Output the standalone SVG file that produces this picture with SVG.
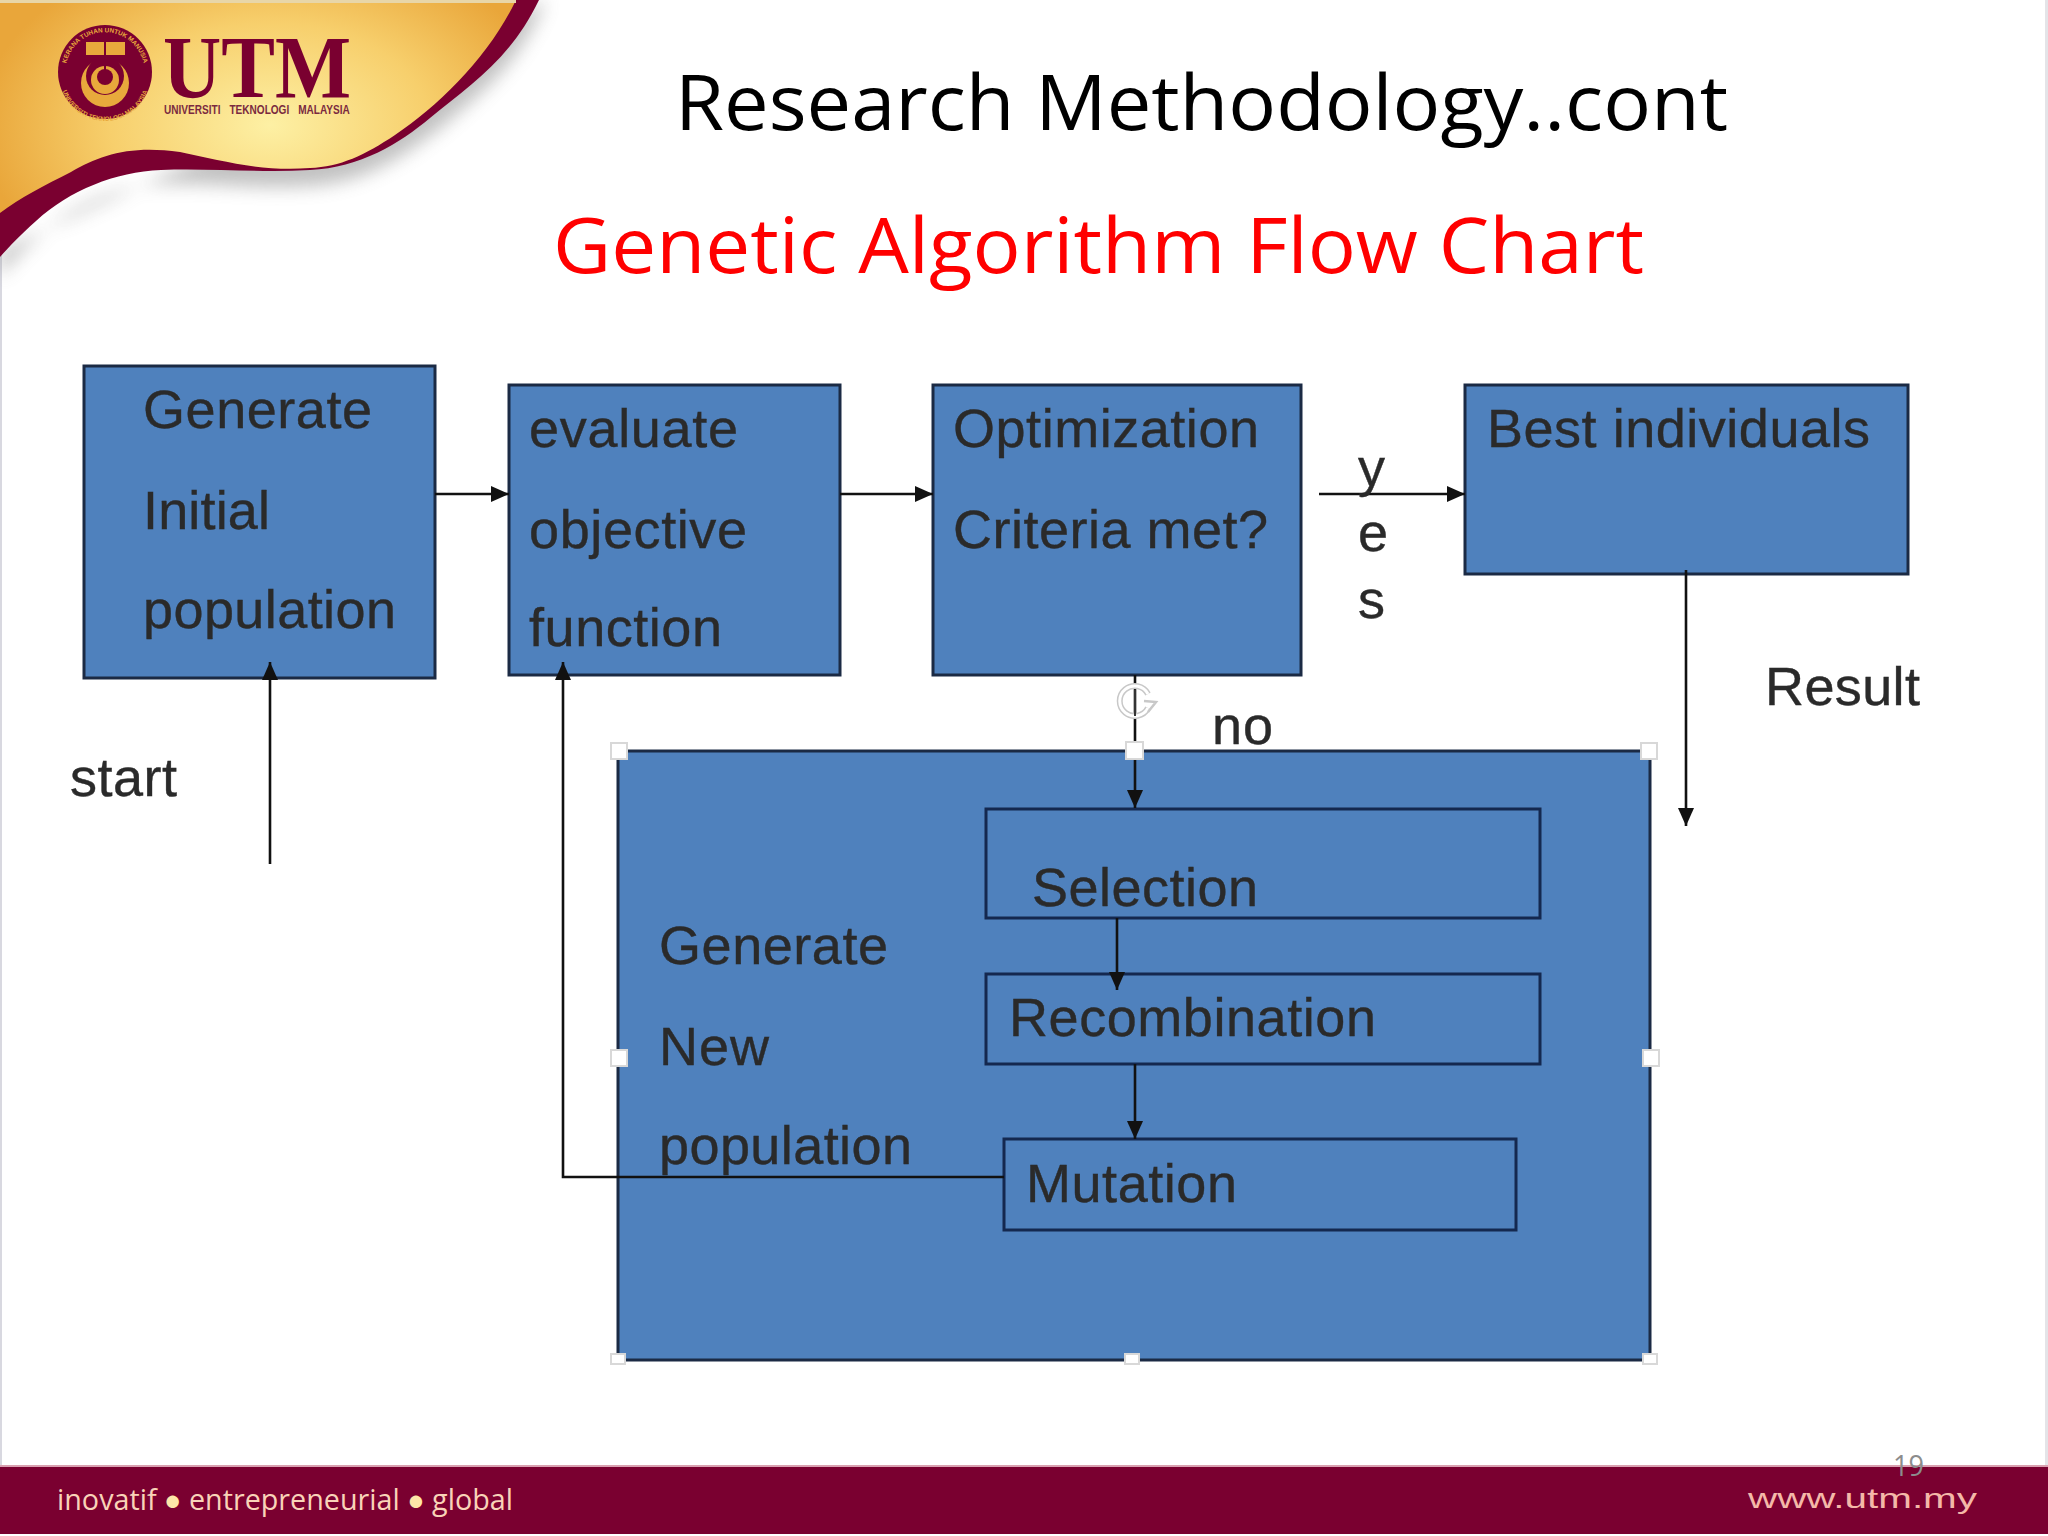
<svg xmlns="http://www.w3.org/2000/svg" width="2048" height="1536" viewBox="0 0 2048 1536">
<style>
.box{fill:#4f81bd;stroke:#1b2a44;stroke-width:3}
.inner{fill:#4f81bd;stroke:#14284f;stroke-width:3}
.lb{font-family:"Liberation Sans",Arial,sans-serif;font-size:54px;fill:#2a2a2a;stroke:#2a2a2a;stroke-width:.4px;filter:url(#soft)}
.ttl{font-family:"Open Sans","Noto Sans",sans-serif;font-size:76px}
.ln{fill:none;stroke:#111;stroke-width:2.6}
.hd{fill:#fff;stroke:#d8d8d8;stroke-width:2}
.seal{font-family:"Liberation Sans",Arial,sans-serif;font-weight:bold;font-size:6.4px;fill:#e8a93c}
</style>
<defs>
<marker id="ah" markerUnits="userSpaceOnUse" markerWidth="20" markerHeight="16" refX="18" refY="8" orient="auto"><path d="M0 0L18 8L0 16Z" fill="#111"/></marker>
<radialGradient id="gold" gradientUnits="userSpaceOnUse" cx="270" cy="125" r="290" gradientTransform="translate(0 45) scale(1 .64)"><stop offset="0" stop-color="#fdf0a4"/><stop offset=".55" stop-color="#f7cf6c"/><stop offset="1" stop-color="#e9a63a"/></radialGradient>
<filter id="bl" x="-10%" y="-10%" width="120%" height="130%"><feGaussianBlur stdDeviation="9"/></filter>
<filter id="soft" x="-5%" y="-5%" width="110%" height="110%"><feGaussianBlur stdDeviation=".7"/></filter>
<path id="sealTop" d="M66 78A39.500 39.500 0 1 1 144 78"/>
<path id="sealBot" d="M60 76A45 45 0 0 0 150 76"/>
</defs>
<rect width="2048" height="1536" fill="#fff"/>
<rect x="0" y="0" width="2" height="1466" fill="#d8d8e0"/>
<rect x="2045" y="0" width="3" height="1466" fill="#e4e4e8"/>
<g id="banner">
<path d="M545 0C520 65 478 95 440 128C405 155 365 183 310 186C260 190 210 182 161 184C115 186 70 206 36 238C20 252 8 265 0 278L0 250Z" fill="#777" opacity=".45" filter="url(#bl)"/>
<path d="M539 0C510 60 470 85 430 118C400 143 360 168 310 170C260 173 210 168 161 170C115 172 70 190 36 221C20 235 8 248 0 257L0 0Z" fill="#7a0030"/>
<path d="M516 0C490 55 440 105 395 135C365 155 340 167 310 168C260 172 220 160 180 152C130 145 100 155 71 172C45 185 20 198 0 213L0 0Z" fill="url(#gold)"/>
<rect width="516" height="3" fill="#e8d6a8"/>
<g id="seal">
<circle cx="105" cy="72" r="47" fill="#7a0030"/>
<text class="seal"><textPath href="#sealTop" startOffset="50%" text-anchor="middle">KERANA TUHAN UNTUK MANUSIA</textPath></text>
<text class="seal"><textPath href="#sealBot" startOffset="50%" text-anchor="middle">UNIVERSITI TEKNOLOGI MALAYSIA</textPath></text>
<circle cx="105" cy="83" r="24" fill="#e8a93c"/>
<circle cx="105" cy="76" r="19" fill="#7a0030"/>
<circle cx="105" cy="80" r="14" fill="#e8a93c"/>
<circle cx="105" cy="77" r="8" fill="#7a0030"/>
<rect x="86" y="42" width="39" height="13" fill="#e8a93c"/>
<path d="M105 42V70" stroke="#7a0030" stroke-width="2"/>
</g>
<text x="163" y="97" font-family="'Liberation Serif',serif" font-weight="bold" font-size="88" fill="#7a0030" textLength="188" lengthAdjust="spacingAndGlyphs">UTM</text>
<text transform="translate(164 114) scale(.775 1)" font-family="'Liberation Sans',sans-serif" font-weight="bold" font-size="13" fill="#7a2a40" word-spacing="8">UNIVERSITI TEKNOLOGI MALAYSIA</text>
</g>
<text class="ttl" x="675" y="130" fill="#000" textLength="1053" lengthAdjust="spacingAndGlyphs">Research Methodology..cont</text>
<text class="ttl" x="553" y="273" fill="#f00" textLength="1091" lengthAdjust="spacingAndGlyphs">Genetic Algorithm Flow Chart</text>
<g id="node-generate"><rect class="box" x="84" y="366" width="351" height="312"/>
<text class="lb" x="143" y="428" textLength="229">Generate</text><text class="lb" x="143" y="529" textLength="127">Initial</text><text class="lb" x="143" y="628" textLength="253">population</text></g>
<g id="node-evaluate"><rect class="box" x="509" y="385" width="331" height="290"/>
<text class="lb" x="529" y="447" textLength="209">evaluate</text><text class="lb" x="529" y="548" textLength="218">objective</text><text class="lb" x="529" y="646" textLength="193">function</text></g>
<g id="node-optimization"><rect class="box" x="933" y="385" width="368" height="290"/>
<text class="lb" x="953" y="447" textLength="306">Optimization</text><text class="lb" x="953" y="548" textLength="315">Criteria met?</text></g>
<g id="node-best"><rect class="box" x="1465" y="385" width="443" height="189"/>
<text class="lb" x="1487" y="447" textLength="383">Best individuals</text></g>
<g id="node-generate-new"><rect class="box" x="618" y="751" width="1032" height="609"/>
<text class="lb" x="659" y="964" textLength="229">Generate</text><text class="lb" x="659" y="1065" textLength="110">New</text><text class="lb" x="659" y="1164" textLength="253">population</text>
<g id="handles"><rect class="hd" x="611" y="743" width="16" height="16"/><rect class="hd" x="1641" y="743" width="16" height="16"/><rect class="hd" x="611" y="1050" width="16" height="16"/><rect class="hd" x="1643" y="1050" width="16" height="16"/><rect class="hd" x="611" y="1354" width="14" height="10"/><rect class="hd" x="1125" y="1354" width="14" height="10"/><rect class="hd" x="1643" y="1354" width="14" height="10"/></g></g>
<g id="node-selection"><rect class="inner" x="986" y="809" width="554" height="109"/><text class="lb" x="1032" y="906" textLength="226">Selection</text></g>
<g id="node-recombination"><rect class="inner" x="986" y="974" width="554" height="90"/><text class="lb" x="1009" y="1036" textLength="367">Recombination</text></g>
<g id="node-mutation"><rect class="inner" x="1004" y="1139" width="512" height="91"/><text class="lb" x="1026" y="1202" textLength="211">Mutation</text></g>
<g id="connectors">
<path class="ln" d="M435 494H509" marker-end="url(#ah)"/>
<path class="ln" d="M840 494H933" marker-end="url(#ah)"/>
<path class="ln" d="M1319 494H1465" marker-end="url(#ah)"/>
<path class="ln" d="M1686 570V826" marker-end="url(#ah)"/>
<path class="ln" d="M270 864V662" marker-end="url(#ah)"/>
<path class="ln" d="M1135 675V808" marker-end="url(#ah)"/>
<path class="ln" d="M1117 918V990" marker-end="url(#ah)"/>
<path class="ln" d="M1135 1064V1139" marker-end="url(#ah)"/>
<path class="ln" d="M1004 1177H563V662" marker-end="url(#ah)"/>
</g>
<g id="rotate-handle" fill="none">
<path d="M1148 708A15 15 0 1 1 1148 694" stroke="#c8c8c8" stroke-width="6"/>
<path d="M1148 708A15 15 0 1 1 1148 694" stroke="#fff" stroke-width="3"/>
<path d="M1144 701L1156 702L1148 712" stroke="#c8c8c8" stroke-width="2.5"/>
<path d="M1135 690V716" stroke="#333" stroke-width="2"/>
</g>
<rect class="hd" x="1126" y="742" width="17" height="17"/>
<text class="lb" x="1212" y="744" textLength="61">no</text>
<text class="lb" x="1358" y="486">y</text><text class="lb" x="1358" y="551">e</text><text class="lb" x="1358" y="618">s</text>
<text class="lb" x="1765" y="705" textLength="155">Result</text>
<text class="lb" x="70" y="796" textLength="107">start</text>
<g id="footer">
<rect y="1466" width="2048" height="68" fill="#7a0030"/>
<rect y="1465" width="2048" height="2" fill="#d9a0b0"/>
<text x="57" y="1510" font-family="'Open Sans','Noto Sans',sans-serif" font-size="29" fill="#f9d3b8" textLength="456" lengthAdjust="spacingAndGlyphs">inovatif <tspan fill="#fde6a8">●</tspan> entrepreneurial <tspan fill="#fde6a8">●</tspan> global</text>
<text x="1748" y="1508" font-family="'Liberation Sans',sans-serif" font-size="28" fill="#f4b8a8" textLength="229" lengthAdjust="spacingAndGlyphs">www.utm.my</text>
</g>
<text x="1893" y="1476" font-family="'Open Sans',sans-serif" font-size="30" fill="#8c8c8c" textLength="31" lengthAdjust="spacingAndGlyphs">19</text>
</svg>
